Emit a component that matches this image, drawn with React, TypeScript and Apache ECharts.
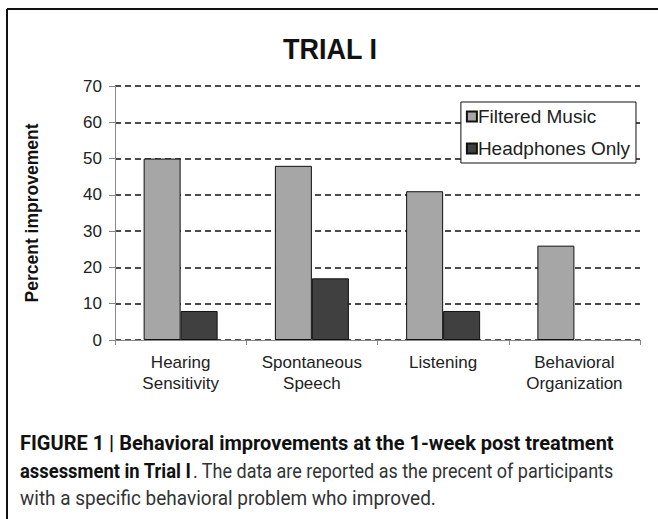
import React, { useEffect, useRef } from "react";
import * as echarts from "echarts";

const categories = ["Hearing\nSensitivity", "Spontaneous\nSpeech", "Listening", "Behavioral\nOrganization"];
const filteredMusic = [50, 48, 41, 26];
const headphonesOnly: (number | null)[] = [8, 17, 8, null];
const seriesNames = ["Filtered Music", "Headphones Only"];
const titleText = "TRIAL I";
const yAxisName = "Percent improvement";
const captionLine1 = "FIGURE 1 | Behavioral improvements at the 1-week post treatment";
const captionLine2Bold = "assessment in Trial I";
const captionLine2 = ". The data are reported as the precent of participants";
const captionLine3 = "with a specific behavioral problem who improved.";

const FONT = "'Liberation Sans', Arial, sans-serif";
const CAP = "Roboto, 'Liberation Sans', sans-serif";

function capText(text: string, x: number, y: number, scaleX: number, bold: boolean) {
  return {
    type: "text",
    x,
    y,
    scaleX,
    style: {
      text,
      x: 0,
      y: 0,
      align: "left",
      verticalAlign: "middle",
      fontFamily: CAP,
      fontSize: 20,
      fontWeight: bold ? "bold" : "normal",
      fill: bold ? "#111" : "#333",
    },
  };
}

export default function App() {
  const ref = useRef<HTMLDivElement>(null);
  useEffect(() => {
    if (!ref.current) return;
    const chart = echarts.init(ref.current, null, { renderer: "svg" });
    chart.setOption({
      animation: false,
      backgroundColor: "#ffffff",
      legend: {
        right: 22,
        top: 102,
        orient: "vertical",
        itemWidth: 10,
        itemHeight: 10,
        itemGap: 13,
        padding: [5, 6, 5, 5],
        borderColor: "#111",
        borderWidth: 1,
        backgroundColor: "#fff",
        icon: "rect",
        textStyle: { fontFamily: FONT, fontSize: 19, color: "#222", padding: [0, 0, 0, -4] },
        data: seriesNames,
      },
      grid: { left: 115, right: 18, top: 86, bottom: 179, containLabel: false },
      xAxis: {
        type: "category",
        data: categories,
        axisLine: { lineStyle: { color: "#888", width: 1 } },
        axisTick: { show: true, length: 5, lineStyle: { color: "#888" } },
        axisLabel: { fontFamily: FONT, fontSize: 17, color: "#222", margin: 12, lineHeight: 21, interval: 0 },
      },
      yAxis: {
        type: "value",
        min: 0,
        max: 70,
        interval: 10,
        name: yAxisName,
        nameLocation: "middle",
        nameGap: 74,
        nameRotate: 90,
        nameTextStyle: { fontFamily: FONT, fontSize: 17.5, fontWeight: "bold", color: "#111" },
        axisLine: { show: true, lineStyle: { color: "#888", width: 1 } },
        axisTick: { show: true, length: 6, lineStyle: { color: "#888" } },
        axisLabel: { fontFamily: FONT, fontSize: 17, color: "#222", margin: 13 },
        splitLine: { show: true, lineStyle: { color: "#111", type: [6, 4], width: 1.6 } },
      },
      series: [
        {
          name: seriesNames[0],
          type: "bar",
          data: filteredMusic,
          barWidth: 37,
          barGap: "0%",
          itemStyle: { color: "#a6a6a6", borderColor: "#111", borderWidth: 1 },
        },
        {
          name: seriesNames[1],
          type: "bar",
          data: headphonesOnly,
          barWidth: 37,
          barGap: "0%",
          itemStyle: { color: "#404040", borderColor: "#111", borderWidth: 1 },
        },
      ],
      graphic: [
        { type: "line", shape: { x1: 7, y1: 9, x2: 658, y2: 9 }, style: { stroke: "#111", lineWidth: 2 } },
        { type: "line", shape: { x1: 7, y1: 9, x2: 7, y2: 519 }, style: { stroke: "#111", lineWidth: 2 } },
        {
          type: "text",
          x: 330,
          y: 48,
          scaleX: 0.9,
          style: {
            text: titleText,
            x: 0,
            y: 0,
            align: "center",
            verticalAlign: "middle",
            fontFamily: FONT,
            fontSize: 30,
            fontWeight: "bold",
            fill: "#111",
          },
        },
        capText(captionLine1, 20, 443, 1.0, true),
        capText(captionLine2Bold, 20, 471, 0.92, true),
        capText(captionLine2, 193, 471, 0.9, false),
        capText(captionLine3, 20, 498, 0.95, false),
      ],
    });
    return () => chart.dispose();
  }, []);
  return <div ref={ref} style={{ width: 658, height: 519, position: "absolute", left: 0, top: 0 }} />;
}
